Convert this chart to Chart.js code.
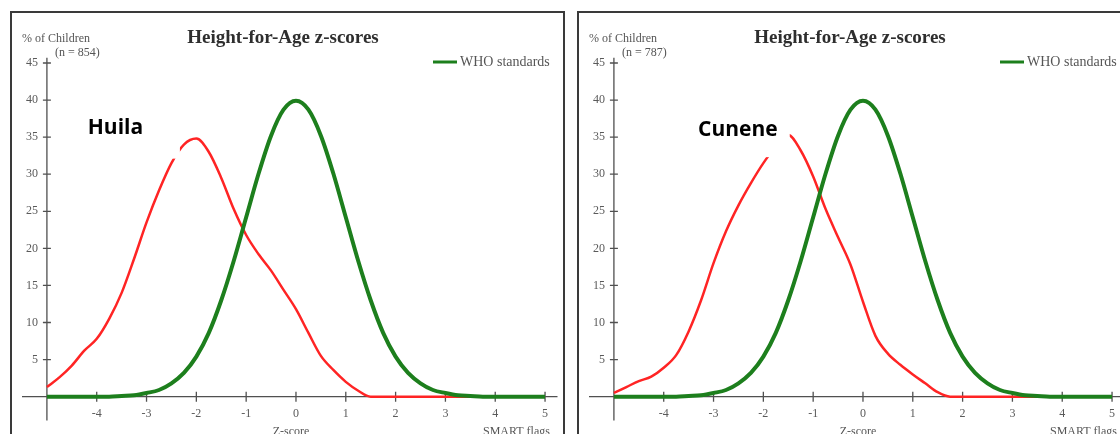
<!DOCTYPE html>
<html><head><meta charset="utf-8">
<script src="https://cdn.jsdelivr.net/npm/chart.js@4.4.1/dist/chart.umd.min.js"></script>
<style>
html,body{margin:0;padding:0;background:#fff;}
body{width:1120px;height:434px;overflow:hidden;position:relative;}
.panel{position:absolute;top:11px;width:551px;height:460px;border:2px solid #3a3a3a;border-bottom:none;background:#fff;}
.panel canvas{position:absolute;left:0;top:0;}
</style></head><body>
<div class="panel" style="left:10px"><canvas id="c1" width="551" height="421"></canvas></div>
<div class="panel" style="left:577px"><canvas id="c2" width="551" height="421"></canvas></div>
<script>
// ---- data ----
const zScores = [-5,-4.75,-4.5,-4.25,-4,-3.75,-3.5,-3.25,-3,-2.75,-2.5,-2.25,-2,-1.75,-1.5,-1.25,-1,-0.75,-0.5,-0.25,0,0.25,0.5,0.75,1,1.25,1.5,1.75,2,2.25,2.5,2.75,3,3.25,3.5,3.75,4,4.25,4.5,4.75,5];
const whoStandard = [0,0,0,0,0,0,0.1,0.2,0.5,0.9,1.8,3.2,5.4,8.6,13.0,18.3,24.2,30.1,35.2,38.7,39.9,38.7,35.2,30.1,24.2,18.3,13.0,8.6,5.4,3.2,1.8,0.9,0.5,0.2,0.1,0,0,0,0,0,0];
const huila = [1.3,2.6,4.2,6.2,7.8,10.5,14.0,18.6,23.5,27.8,31.5,34.0,34.8,33.0,29.5,25.3,21.8,19.2,17.0,14.4,11.8,8.6,5.5,3.6,2.0,0.8,0,0,0,0,0,0,0,0,0,0,0,0,0,0,0];
const cunene = [0.5,1.3,2.1,2.7,3.9,5.6,8.8,13.0,18.0,22.3,25.8,28.8,31.5,33.7,35.3,33.2,29.7,25.3,21.5,17.8,12.8,8.2,5.8,4.3,3.0,1.8,0.6,0,0,0,0,0,0,0,0,0,0,0,0,0,0];
const xTickValues = [-4,-3,-2,-1,0,1,2,3,4,5];
const yTickValues = [5,10,15,20,25,30,35,40,45];
const panels = [
  {id:'c1', region:'Huila', n:'(n = 854)', values:huila, box:{z0:-4.34,z1:-2.33,v0:32.1,v1:39.5}},
  {id:'c2', region:'Cunene', n:'(n = 787)', values:cunene, box:{z0:-3.47,z1:-1.47,v0:32.3,v1:38.7}}
];
const chartTitle = 'Height-for-Age z-scores';
const legendLabel = 'WHO standards';
const yAxisTitle = '% of Children';
const xAxisTitle = 'Z-score';
const flagsLabel = 'SMART flags';

const SERIF = '"Liberation Serif","DejaVu Serif",serif';

const decor = {
  id:'decor',
  beforeDatasetsDraw(chart){
    const {ctx, chartArea:a, scales:{x,y}} = chart;
    const x0 = x.getPixelForValue(-5), y0 = y.getPixelForValue(0);
    ctx.save();
    ctx.strokeStyle = '#505050'; ctx.lineWidth = 1.3;
    ctx.beginPath();
    ctx.moveTo(a.left, y0); ctx.lineTo(a.right, y0);
    ctx.moveTo(x0, a.top); ctx.lineTo(x0, a.bottom);
    xTickValues.forEach(v=>{const px=x.getPixelForValue(v); ctx.moveTo(px,y0-5); ctx.lineTo(px,y0+5);});
    yTickValues.forEach(v=>{const py=y.getPixelForValue(v); ctx.moveTo(x0-4,py); ctx.lineTo(x0+4,py);});
    ctx.stroke();
    ctx.fillStyle = '#5a5a5a'; ctx.font = '12px '+SERIF;
    ctx.textAlign='center'; ctx.textBaseline='middle';
    xTickValues.forEach(v=>ctx.fillText(String(v), x.getPixelForValue(v), y0+17));
    ctx.textAlign='right';
    yTickValues.forEach(v=>ctx.fillText(String(v), x0-9, y.getPixelForValue(v)));
    ctx.restore();
  },
  afterDatasetsDraw(chart, args, o){
    const {ctx, scales:{x,y}} = chart;
    const b = o.box;
    const l = x.getPixelForValue(b.z0), r = x.getPixelForValue(b.z1);
    const t = y.getPixelForValue(b.v1), bt = y.getPixelForValue(b.v0);
    ctx.save();
    ctx.fillStyle = '#fff';
    ctx.fillRect(l, t, r-l, bt-t);
    ctx.fillStyle = '#000';
    ctx.font = 'bold 21px "Open Sans","Liberation Sans",sans-serif';
    ctx.textAlign='left'; ctx.textBaseline='middle';
    ctx.fillText(o.region, l+8, (t+bt)/2 - 3);
    ctx.restore();
  },
  afterDraw(chart, args, o){
    const {ctx} = chart;
    ctx.save();
    ctx.fillStyle = '#2e2e2e';
    ctx.font = 'bold 19px '+SERIF;
    ctx.textAlign='center'; ctx.textBaseline='middle';
    ctx.fillText(chartTitle, 271, 25);
    ctx.fillStyle = '#555';
    ctx.font = '12px '+SERIF;
    ctx.textAlign='left';
    ctx.fillText(yAxisTitle, 10, 26);
    ctx.fillText(o.n, 43, 40);
    // legend
    ctx.strokeStyle = '#1d7f1d'; ctx.lineWidth = 3;
    ctx.beginPath(); ctx.moveTo(421,49); ctx.lineTo(445,49); ctx.stroke();
    ctx.fillStyle = '#555';
    ctx.font = '14px '+SERIF;
    ctx.fillText(legendLabel, 448, 49);
    ctx.font = '12px '+SERIF;
    ctx.textBaseline='top';
    ctx.textAlign='center';
    ctx.fillText(xAxisTitle, 279, 413);
    ctx.textAlign='left';
    ctx.fillText(flagsLabel, 471, 413);
    ctx.restore();
  }
};

panels.forEach(p=>{
  new Chart(document.getElementById(p.id), {
    type:'line',
    data:{
      labels: zScores,
      datasets:[
        {label:legendLabel, data: zScores.map((z,i)=>({x:z,y:whoStandard[i]})), borderColor:'#1d7f1d', borderWidth:4, pointRadius:0, cubicInterpolationMode:'monotone', fill:false},
        {label:p.region, data: zScores.map((z,i)=>({x:z,y:p.values[i]})), borderColor:'#ff2424', borderWidth:2.5, pointRadius:0, cubicInterpolationMode:'monotone', fill:false}
      ]
    },
    options:{
      responsive:false, animation:false, devicePixelRatio:1,
      layout:{padding:{left:10, right:5.5, top:44.8, bottom:13.6}},
      scales:{
        x:{type:'linear', min:-5.5, max:5.25, display:false},
        y:{type:'linear', min:-3.2, max:45.7, display:false}
      },
      plugins:{legend:{display:false}, tooltip:{enabled:false}, decor:{region:p.region, n:p.n, box:p.box}},
      events:[]
    },
    plugins:[decor]
  });
});
</script>
</body></html>
